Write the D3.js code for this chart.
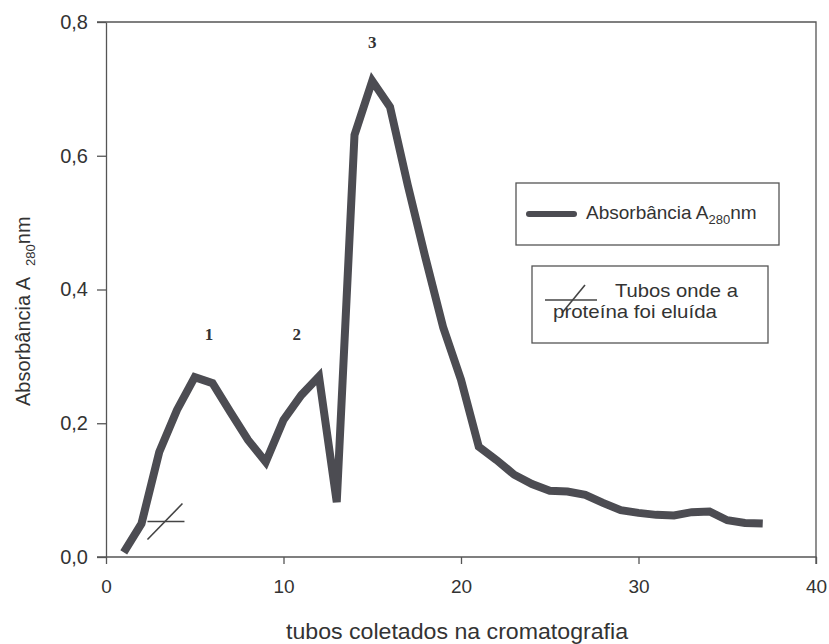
<!DOCTYPE html>
<html>
<head>
<meta charset="utf-8">
<script src="https://cdn.jsdelivr.net/npm/d3@7"></script>
<style>
  body { margin: 0; background: #fff; }
  text { font-family: "Liberation Sans", Arial, sans-serif; fill: #333; }
</style>
</head>
<body>
<div id="chart"></div>
<script>
// data prep
let tubes = [1, 2, 3, 4, 5, 6, 7, 8, 9, 10, 11, 12, 13, 14, 15, 16, 17, 18, 19,
             20, 21, 22, 23, 24, 25, 26, 27, 28, 29, 30, 31, 32, 33, 34, 35, 36, 37];
let absorbance = [0.007, 0.05, 0.157, 0.22, 0.269, 0.26, 0.217, 0.175, 0.142, 0.205,
                  0.242, 0.27, 0.082, 0.631, 0.712, 0.673, 0.556, 0.447, 0.343, 0.265,
                  0.165, 0.145, 0.123, 0.109, 0.099, 0.098, 0.093, 0.081, 0.07, 0.066,
                  0.063, 0.062, 0.067, 0.068, 0.055, 0.051, 0.05];
let xTicks = [0, 10, 20, 30, 40];
let yTicks = [0, 0.2, 0.4, 0.6, 0.8];
let peakLabels = [
    {text: "1", tube: 5.8, value: 0.325},
    {text: "2", tube: 10.75, value: 0.325},
    {text: "3", tube: 15.0, value: 0.761}
];
// tube where the protein eluted (marked with a slash)
let elutedTubes = [3.35];
let elutedValue = 0.053;

// colors
let colorLine = "#4c4c52";
let colorAxis = "#555";

let width = 829,
    height = 644;
let margin = {top: 22, right: 13, bottom: 87, left: 106};

let svg = d3.select("#chart").append("svg")
    .attr("width", width)
    .attr("height", height);

let x = d3.scaleLinear()
    .domain([0, 40])
    .range([margin.left, width - margin.right]);
let y = d3.scaleLinear()
    .domain([0, 0.8])
    .range([height - margin.bottom, margin.top]);

let fmt = d => d3.format(".1f")(d).replace(".", ",");

// frame (top and right)
svg.append("path")
    .attr("d", "M" + (x(0) - 9) + "," + y(0.8) + "H" + x(40) + "V" + y(0))
    .attr("fill", "none")
    .attr("stroke", colorAxis)
    .attr("stroke-width", 1.3);

// axes
let xAxis = svg.append("g")
    .attr("transform", "translate(0," + y(0) + ")")
    .call(d3.axisBottom(x).tickValues(xTicks).tickSize(7).tickPadding(16).tickSizeOuter(0));
let yAxis = svg.append("g")
    .attr("transform", "translate(" + x(0) + ",0)")
    .call(d3.axisLeft(y).tickValues(yTicks).tickFormat(fmt).tickSize(9).tickPadding(9).tickSizeOuter(0));

[xAxis, yAxis].forEach(function(g) {
    g.select(".domain").attr("stroke", colorAxis).attr("stroke-width", 1.3);
    g.selectAll(".tick line").attr("stroke", colorAxis).attr("stroke-width", 1.3);
    g.selectAll(".tick text")
        .style("font-family", '"Liberation Sans", Arial, sans-serif')
        .style("font-size", "19px")
        .attr("fill", "#333");
});
yAxis.selectAll(".tick text").style("font-size", "20px");
// extend x axis left to meet the 0,0 tick
xAxis.select(".domain").attr("d", "M" + (x(0) - 9) + ",0H" + x(40) + "V7");

// axis titles
svg.append("text")
    .attr("x", 457)
    .attr("y", 639)
    .attr("text-anchor", "middle")
    .attr("textLength", 342)
    .attr("lengthAdjust", "spacingAndGlyphs")
    .style("font-size", "22px")
    .text("tubos coletados na cromatografia");

let yTitle = svg.append("text")
    .attr("transform", "translate(30,406) rotate(-90)")
    .style("font-size", "20px");
yTitle.append("tspan").text("Absorbância A\u00a0\u00a0");
yTitle.append("tspan").attr("dy", 5).style("font-size", "13px").text("280");
yTitle.append("tspan").attr("dy", -5).text("nm");

// data line
let line = d3.line()
    .x((d, i) => x(tubes[i]))
    .y(d => y(d));

svg.append("path")
    .datum(absorbance)
    .attr("d", line)
    .attr("fill", "none")
    .attr("stroke", colorLine)
    .attr("stroke-width", 8)
    .attr("stroke-linejoin", "miter")
    .attr("stroke-miterlimit", 3);

// peak numbers
svg.selectAll(".peak")
    .data(peakLabels)
    .enter()
    .append("text")
    .attr("class", "peak")
    .attr("x", d => x(d.tube))
    .attr("y", d => y(d.value))
    .attr("text-anchor", "middle")
    .style("font-family", '"Liberation Serif", "Times New Roman", serif')
    .style("font-weight", "bold")
    .style("font-size", "17px")
    .attr("fill", "#444")
    .text(d => d.text);

// slash marker
function slash(g, cx, cy) {
    g.append("line")
        .attr("x1", cx - 18).attr("y1", cy)
        .attr("x2", cx + 19).attr("y2", cy)
        .attr("stroke", "#444").attr("stroke-width", 1.6);
    g.append("line")
        .attr("x1", cx - 18).attr("y1", cy + 18)
        .attr("x2", cx + 17).attr("y2", cy - 18)
        .attr("stroke", "#444").attr("stroke-width", 1.6);
}
elutedTubes.forEach(function(t) {
    slash(svg.append("g"), x(t), y(elutedValue));
});

// legend 1
let leg1 = svg.append("g");
leg1.append("rect")
    .attr("x", 516).attr("y", 183)
    .attr("width", 263).attr("height", 62)
    .attr("fill", "#fff")
    .attr("stroke", colorAxis).attr("stroke-width", 1.3);
leg1.append("line")
    .attr("x1", 529).attr("y1", 214)
    .attr("x2", 574).attr("y2", 214)
    .attr("stroke", colorLine).attr("stroke-width", 6)
    .attr("stroke-linecap", "round");
let leg1Text = leg1.append("text")
    .attr("x", 586).attr("y", 219)
    .style("font-size", "19px");
leg1Text.append("tspan").text("Absorbância A");
leg1Text.append("tspan").attr("dy", 5).style("font-size", "13px").text("280");
leg1Text.append("tspan").attr("dy", -5).text("nm");

// legend 2
let leg2 = svg.append("g");
leg2.append("rect")
    .attr("x", 532).attr("y", 266)
    .attr("width", 236).attr("height", 77)
    .attr("fill", "#fff")
    .attr("stroke", colorAxis).attr("stroke-width", 1.3);
leg2.append("line")
    .attr("x1", 545).attr("y1", 300)
    .attr("x2", 597).attr("y2", 300)
    .attr("stroke", "#444").attr("stroke-width", 1.6);
leg2.append("line")
    .attr("x1", 562).attr("y1", 313)
    .attr("x2", 585).attr("y2", 285)
    .attr("stroke", "#444").attr("stroke-width", 1.6);
leg2.append("text")
    .attr("x", 615).attr("y", 297)
    .attr("textLength", 123)
    .attr("lengthAdjust", "spacingAndGlyphs")
    .style("font-size", "19px")
    .text("Tubos onde a");
leg2.append("text")
    .attr("x", 553).attr("y", 318)
    .attr("textLength", 164)
    .attr("lengthAdjust", "spacingAndGlyphs")
    .style("font-size", "19px")
    .text("proteína foi eluída");
</script>
</body>
</html>
